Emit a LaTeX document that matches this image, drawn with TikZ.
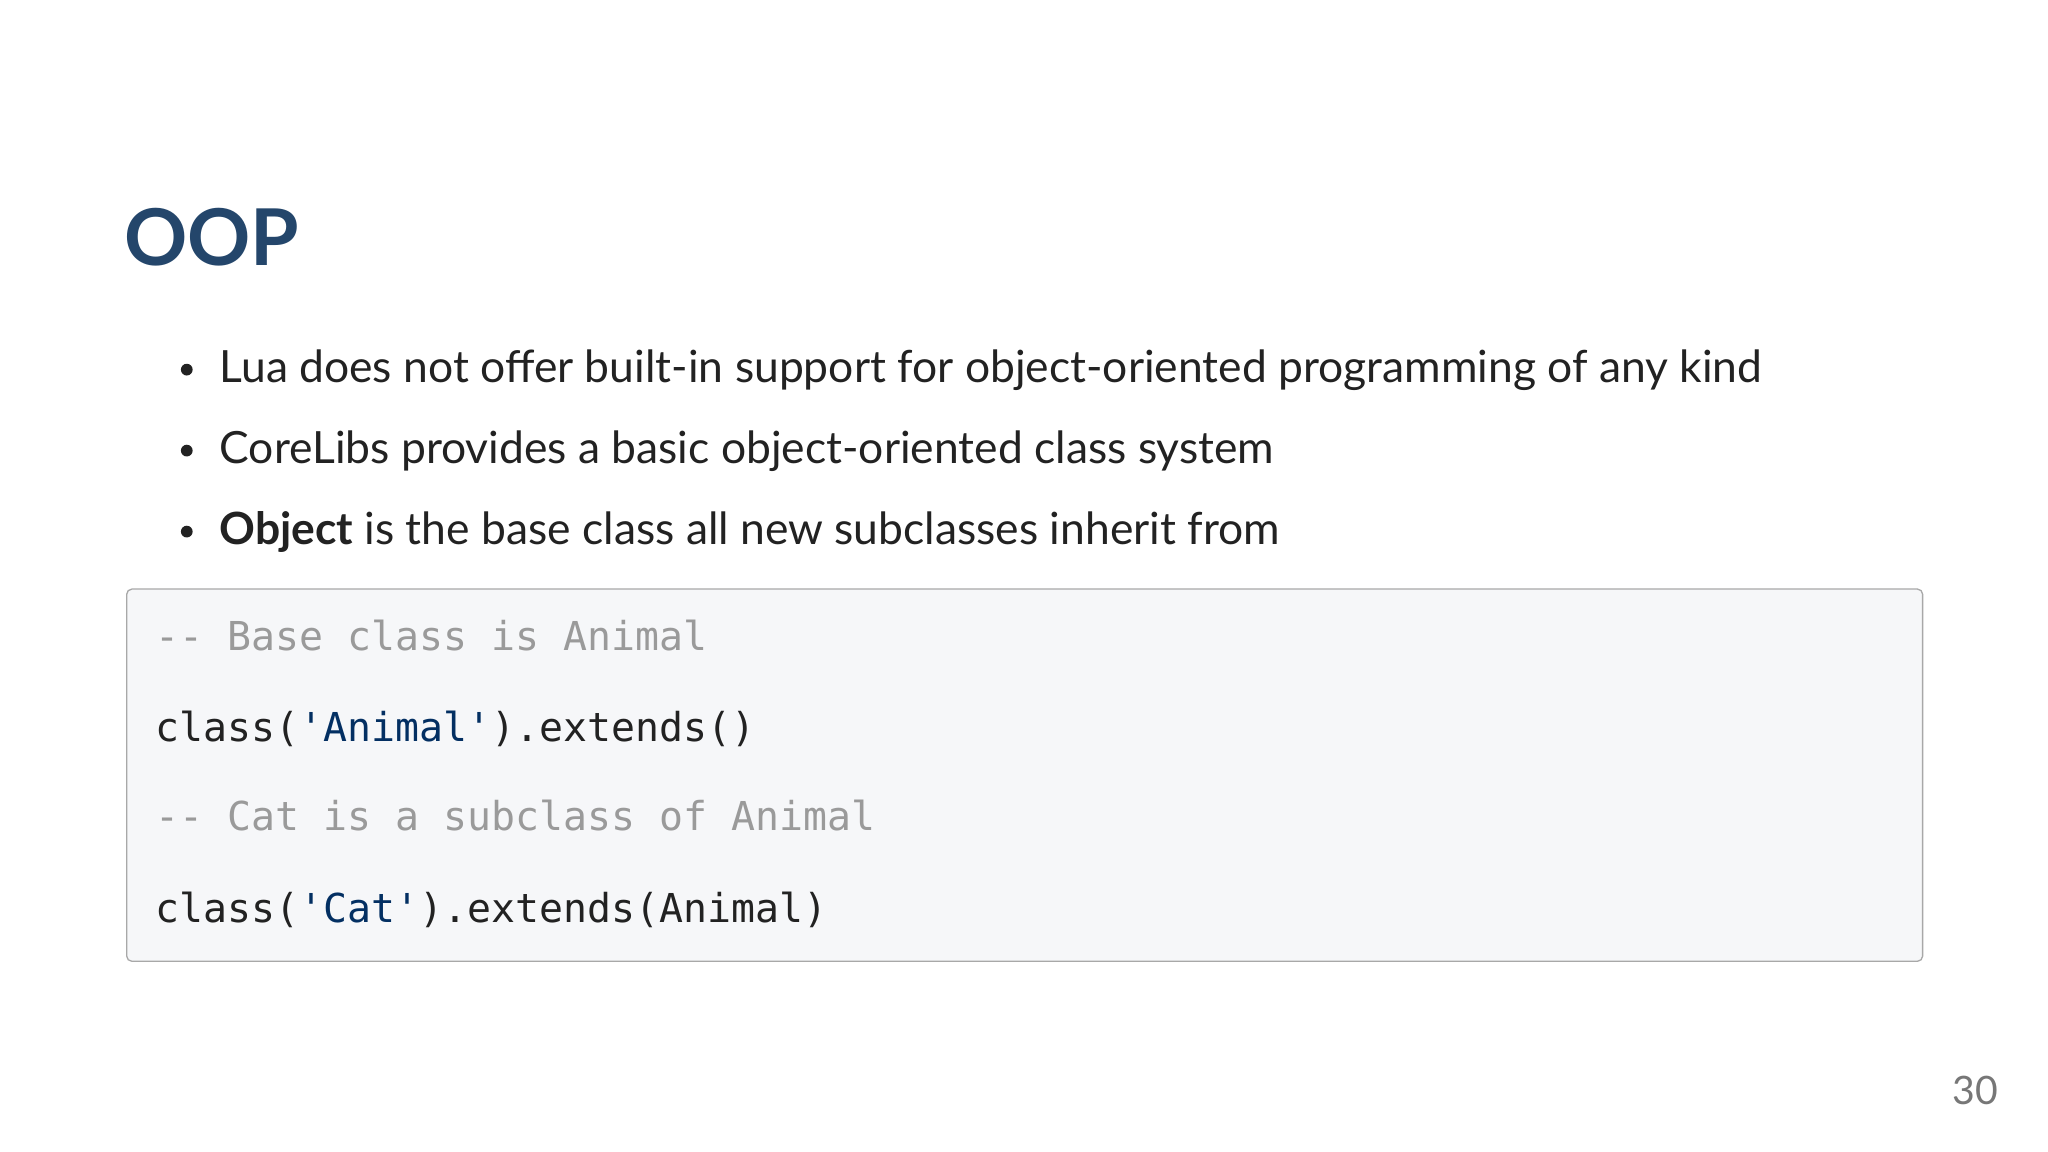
\documentclass[tikz,border=0pt]{standalone}
\usepackage{fontspec}
\setmainfont{Lato}
\setmonofont{DejaVu Sans Mono}
\definecolor{titleblue}{HTML}{24466B}
\definecolor{bodytext}{HTML}{222222}
\definecolor{codebg}{HTML}{F6F7F9}
\definecolor{codeborder}{HTML}{A8A8A8}
\definecolor{comment}{HTML}{9A9A9A}
\definecolor{strblue}{HTML}{032F62}
\definecolor{pagegray}{HTML}{777777}
\tikzset{
  bullet/.style={anchor=base west, inner sep=0pt, text=bodytext, font=\fontsize{34}{40}\selectfont},
  code/.style={anchor=base west, inner sep=0pt, text=bodytext, font=\ttfamily\fontsize{30.5}{36}\selectfont},
  dot/.style={circle, fill=bodytext, inner sep=0pt, minimum size=9pt}
}
\begin{document}
\begin{tikzpicture}[x=1pt,y=-1pt]
\useasboundingbox[fill=white] (0,0) rectangle (1568,882);
\node[anchor=base west, inner sep=0pt, text=titleblue, font=\fontsize{60}{70}\selectfont\bfseries] (title) at (95,203) {OOP};
\node[dot] (d1) at (143,283) {};
\node[bullet] (b1) at (168,293) {Lua does not offer built-in support for object-oriented programming of any kind};
\node[dot] (d2) at (143,345) {};
\node[bullet] (b2) at (168,355) {CoreLibs provides a basic object-oriented class system};
\node[dot] (d3) at (143,407) {};
\node[bullet] (b3) at (168,417) {\textbf{Object} is the base class all new subclasses inherit from};
\draw[fill=codebg, draw=codeborder, line width=1pt, rounded corners=4pt] (97,451) rectangle (1472,736);
\node[code, text=comment] (c1) at (119,498) {-- Base class is Animal};
\node[code] (c2) at (119,568) {class(\textcolor{strblue}{'Animal'}).extends()};
\node[code, text=comment] (c3) at (119,636) {-- Cat is a subclass of Animal};
\node[code] (c4) at (119,706) {class(\textcolor{strblue}{'Cat'}).extends(Animal)};
\node[anchor=base east, inner sep=0pt, text=pagegray, font=\fontsize{30}{36}\selectfont] (pg) at (1530,846) {30};
\end{tikzpicture}
\end{document}
